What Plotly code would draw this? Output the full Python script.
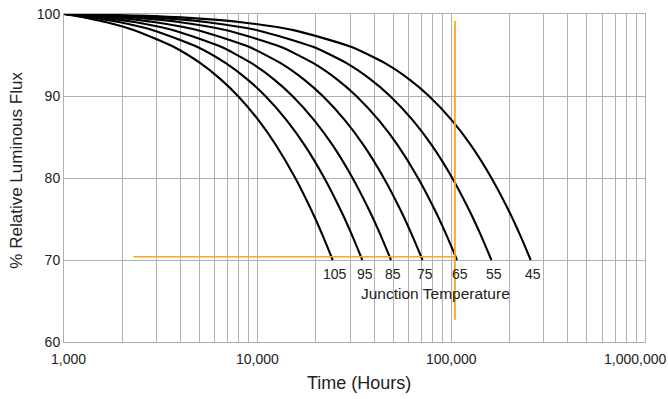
import numpy as np
import plotly.graph_objects as go

# Relative luminous flux levels (%) shared by all curves
flux_levels = [100, 99.8, 99.5, 99, 98, 96, 94, 92, 90, 87, 84, 80, 76, 73, 70]

# Hours at which each junction-temperature curve reaches the flux levels above
junction_temps = ["105", "95", "85", "75", "65", "55", "45"]
hours_105 = [1000, 1131, 1329, 1659, 2325, 3678, 5060, 6470, 7912, 10140, 12440, 15640, 19000, 21650, 24400]
hours_95 = [1000, 1189, 1474, 1950, 2909, 4857, 6846, 8878, 10955, 14160, 17470, 22080, 26930, 30740, 34700]
hours_85 = [1000, 1268, 1672, 2347, 3708, 6471, 9292, 12175, 15120, 19660, 24370, 30900, 37780, 43180, 48800]
hours_75 = [1000, 1393, 1984, 2972, 4965, 9012, 13140, 17360, 21680, 28330, 35220, 44790, 54860, 62760, 71000]
hours_65 = [1000, 1595, 2490, 3987, 7004, 13130, 19390, 25780, 32310, 42390, 52820, 67320, 82560, 94530, 107000]
hours_55 = [1000, 1898, 3249, 5509, 10060, 19310, 28760, 38400, 48260, 63470, 79210, 101100, 124100, 142180, 161000]
hours_45 = [1000, 2437, 4598, 8214, 15500, 30300, 45410, 60850, 76620, 100960, 126140, 161160, 197980, 226880, 257000]
curves_hours = [hours_105, hours_95, hours_85, hours_75, hours_65, hours_55, hours_45]

# Orange reference lines
ref_h_hours = [2280, 104400]
ref_h_flux = [70.4, 70.4]
ref_v_hours = [104400, 104400]
ref_v_flux = [62.7, 99.15]

# Axis ticks
x_major = [1000, 10000, 100000, 1000000]
x_major_text = ["1,000", "10,000", "100,000", "1,000,000"]
y_ticks = [60, 70, 80, 90, 100]

FONT = "Arial, Liberation Sans, Helvetica, sans-serif"
GRID = "#b0b0b0"
ORANGE = "#FBA71B"
TXT = "#222222"

fig = go.Figure()

for hrs in curves_hours:
    fig.add_trace(go.Scatter(x=hrs, y=flux_levels, mode="lines",
                             line=dict(color="black", width=2.1, shape="spline", smoothing=0.6),
                             hoverinfo="skip", showlegend=False))

fig.add_trace(go.Scatter(x=ref_h_hours, y=ref_h_flux, mode="lines", hoverinfo="skip",
                         line=dict(color=ORANGE, width=1.6), showlegend=False))
fig.add_trace(go.Scatter(x=ref_v_hours, y=ref_v_flux, mode="lines", hoverinfo="skip",
                         line=dict(color=ORANGE, width=1.8), showlegend=False))

# Curve labels below the end points
for lab, hrs in zip(junction_temps, curves_hours):
    fig.add_annotation(x=np.log10(hrs[-1] * 1.03), y=flux_levels[-1], text=lab,
                       showarrow=False, yanchor="top", yshift=-4,
                       font=dict(family=FONT, size=14, color=TXT))

fig.add_annotation(x=np.log10(83000), y=65.9, text="Junction Temperature",
                   showarrow=False, font=dict(family=FONT, size=15.5, color=TXT))

# x tick labels (first and last nudged inside, as in the reference)
shifts = [4, 0, 0, -10]
for v, t, s in zip(x_major, x_major_text, shifts):
    fig.add_annotation(x=np.log10(v), xref="x", y=0, yref="paper", text=t,
                       showarrow=False, yanchor="middle", yshift=-17, xshift=s,
                       font=dict(family=FONT, size=14, color=TXT))

# axis titles
fig.add_annotation(x=0.507, xref="paper", y=0, yref="paper", text="Time (Hours)",
                   showarrow=False, yanchor="middle", yshift=-41,
                   font=dict(family=FONT, size=18, color=TXT))
fig.add_annotation(x=0, xref="paper", y=0.524, yref="paper", text="% Relative Luminous Flux",
                   showarrow=False, textangle=-90, xanchor="center", xshift=-47.5,
                   font=dict(family=FONT, size=17, color=TXT))

# all gridlines (1..9 per decade)
x_all = []
for dec in [1000, 10000, 100000]:
    for m in range(1, 10):
        x_all.append(dec * m)
x_all.append(1000000)

fig.update_xaxes(type="log", range=[3, 6], tickvals=x_all, showticklabels=False,
                 showgrid=True, gridcolor=GRID, gridwidth=1,
                 showline=True, linecolor=GRID, linewidth=1, mirror=True,
                 zeroline=False, ticks="", automargin=False)
fig.update_yaxes(range=[60, 100], tickvals=y_ticks,
                 showgrid=True, gridcolor=GRID, gridwidth=1,
                 showline=True, linecolor=GRID, linewidth=1, mirror=True,
                 zeroline=False, ticks="", automargin=False,
                 tickfont=dict(family=FONT, size=14, color=TXT))

fig.update_layout(width=668, height=399, margin=dict(l=64, r=23, t=14, b=57),
                  plot_bgcolor="white", paper_bgcolor="white", showlegend=False,
                  hovermode=False)

fig.write_html("out.html", config={"displayModeBar": False, "staticPlot": True},
               post_script="document.body.style.margin='0';document.body.style.padding='0';document.body.style.overflow='hidden';")
